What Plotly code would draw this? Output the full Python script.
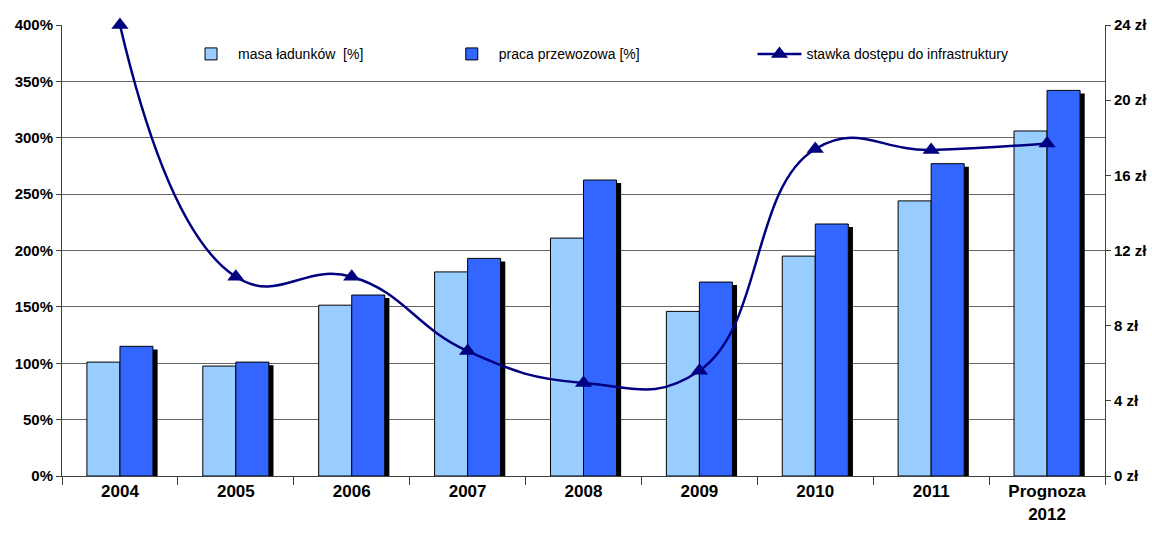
import plotly.graph_objects as go

# Categories and series
years = ["2004", "2005", "2006", "2007", "2008", "2009", "2010", "2011", "Prognoza<br>2012"]
masa_ladunkow = [101, 97.5, 151.5, 181, 211, 146, 195, 244, 306]
praca_przewozowa = [115, 101, 160.5, 193, 262.5, 172, 223.5, 277, 342]
stawka_dostepu = [24.0, 10.6, 10.6, 6.65, 4.95, 5.6, 17.4, 17.35, 17.7]

left_ticks = [0, 50, 100, 150, 200, 250, 300, 350, 400]
left_labels = [f"{v}%" for v in left_ticks]
right_ticks = [0, 4, 8, 12, 16, 20, 24]
right_labels = [f"{v} zł" for v in right_ticks]

x = list(range(len(years)))
bar_w = 0.285
shadow_dx = 0.04
shadow_drop = 2.7  # shadow top sits slightly below the bar top (in %)

FONT = "Liberation Sans, Arial, sans-serif"
LIGHT = "#99CCFF"
DARK = "#3366FF"
NAVY = "#000080"
AXIS = "#404040"

fig = go.Figure()

# drop shadow behind the dark bars
fig.add_trace(go.Bar(
    x=x, y=[v - shadow_drop for v in praca_przewozowa],
    offset=shadow_dx, width=bar_w,
    marker=dict(color="black", line=dict(width=0)),
    showlegend=False, hoverinfo="skip",
))

fig.add_trace(go.Bar(
    x=x, y=masa_ladunkow, name="masa ładunków  [%]",
    offset=-bar_w, width=bar_w,
    marker=dict(color=LIGHT, line=dict(color="black", width=1)),
    legend="legend",
))

fig.add_trace(go.Bar(
    x=x, y=praca_przewozowa, name="praca przewozowa [%]",
    offset=0, width=bar_w,
    marker=dict(color=DARK, line=dict(color="black", width=1)),
    legend="legend2",
))

fig.add_trace(go.Scatter(
    x=x, y=stawka_dostepu, name="stawka dostępu do infrastruktury",
    yaxis="y2", mode="lines+markers", cliponaxis=False,
    line=dict(color=NAVY, width=2.5, shape="spline", smoothing=1.3),
    marker=dict(symbol="triangle-up", size=15, color=NAVY),
    legend="legend3",
))

legend_common = dict(
    orientation="h", yanchor="middle", y=0.935, xanchor="left",
    bgcolor="rgba(0,0,0,0)", font=dict(family=FONT, size=14, color="black"),
    itemwidth=44,
)

fig.update_layout(
    width=1152, height=534,
    margin=dict(l=62, r=47, t=25, b=58),
    paper_bgcolor="white", plot_bgcolor="white",
    barmode="overlay",
    font=dict(family=FONT, color="black"),
    legend=dict(x=0.117, **legend_common),
    legend2=dict(x=0.367, **legend_common),
    legend3=dict(x=0.662, **legend_common),
    xaxis=dict(
        range=[-0.5, len(years) - 0.5], automargin=False,
        tickmode="array", tickvals=x, ticktext=years,
        ticks="", showgrid=False, zeroline=False,
        showline=True, linecolor=AXIS, linewidth=1,
        tickfont=dict(family=FONT, size=17, color="black", weight="bold"),
        minor=dict(tickmode="array",
                   tickvals=[i + 0.5 for i in range(-1, len(years))],
                   ticks="outside", ticklen=8, tickcolor=AXIS, showgrid=False),
    ),
    yaxis=dict(
        range=[0, 400], automargin=False,
        tickmode="array", tickvals=left_ticks, ticktext=left_labels,
        showgrid=True, gridcolor="#666666", gridwidth=1,
        zeroline=False, showline=True, linecolor=AXIS, linewidth=1,
        ticks="outside", ticklen=5, tickcolor=AXIS,
        tickfont=dict(family=FONT, size=15, color="black", weight="bold"),
    ),
    yaxis2=dict(
        range=[0, 24], automargin=False,
        tickmode="array", tickvals=right_ticks, ticktext=right_labels,
        overlaying="y", side="right",
        showgrid=False, zeroline=False, showline=True,
        linecolor=AXIS, linewidth=1,
        ticks="outside", ticklen=5, tickcolor=AXIS,
        tickfont=dict(family=FONT, size=15, color="black", weight="bold"),
    ),
)

fig.write_html("out.html")
